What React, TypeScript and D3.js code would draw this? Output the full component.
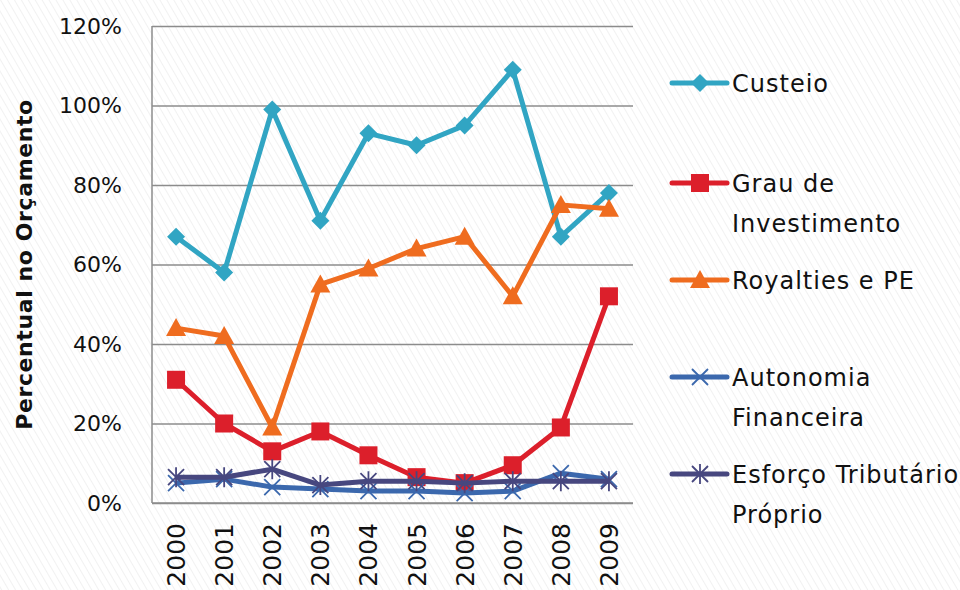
import React, { useRef, useEffect } from 'react';
import * as d3 from 'd3';

const years = ['2000', '2001', '2002', '2003', '2004', '2005', '2006', '2007', '2008', '2009'];
const custeio = [67, 58, 99, 71, 93, 90, 95, 109, 67, 78];
const grauInvestimento = [31, 20, 13, 18, 12, 6.5, 5, 9.5, 19, 52];
const royalties = [44, 42, 19, 55, 59, 64, 67, 52, 75, 74];
const autonomia = [5, 6, 4, 3.5, 3, 3, 2.5, 3, 7.5, 6];
const esforco = [6.5, 6.5, 8.5, 4.5, 5.5, 5.5, 5, 5.5, 5.5, 5.5];
const yTicks = [0, 20, 40, 60, 80, 100, 120];

const series = [
  { name: ['Custeio'], values: custeio, color: '#31a5c3', marker: 'diamond' },
  { name: ['Grau de', 'Investimento'], values: grauInvestimento, color: '#dc1f2b', marker: 'square' },
  { name: ['Royalties e PE'], values: royalties, color: '#ef6c1f', marker: 'triangle' },
  { name: ['Autonomia', 'Financeira'], values: autonomia, color: '#3b68ad', marker: 'x' },
  { name: ['Esforço Tributário', 'Próprio'], values: esforco, color: '#47477f', marker: 'star' },
];

const W = 960;
const H = 590;
const margin = { left: 152, top: 26, right: 327, bottom: 87 };

function drawMarker(g: any, type: string, color: string) {
  if (type === 'diamond') {
    g.append('path').attr('d', 'M0,-9L9,0L0,9L-9,0Z').attr('fill', color);
  } else if (type === 'square') {
    g.append('rect').attr('x', -9).attr('y', -9).attr('width', 18).attr('height', 18).attr('fill', color);
  } else if (type === 'triangle') {
    g.append('path').attr('d', 'M0,-10L10,8L-10,8Z').attr('fill', color);
  } else if (type === 'x') {
    g.append('path').attr('d', 'M-8,-8L8,8M-8,8L8,-8').attr('stroke', color).attr('stroke-width', 1.8);
  } else {
    g.append('path').attr('d', 'M-8,-8L8,8M-8,8L8,-8M0,-10L0,10').attr('stroke', color).attr('stroke-width', 1.8);
  }
}

const Chart = () => {
  const svgRef = useRef<SVGSVGElement>(null);

  useEffect(() => {
    const width = W - margin.left - margin.right;
    const height = H - margin.top - margin.bottom;

    const svgEl = d3.select(svgRef.current);
    svgEl.selectAll('*').remove();

    // hatched background
    const defs = svgEl.append('defs');
    const pat = defs.append('pattern')
      .attr('id', 'hatch')
      .attr('patternUnits', 'userSpaceOnUse')
      .attr('width', 6)
      .attr('height', 6)
      .attr('patternTransform', 'rotate(-30)');
    pat.append('rect').attr('width', 6).attr('height', 6).attr('fill', '#ffffff');
    pat.append('line').attr('x1', 0).attr('y1', 0).attr('x2', 0).attr('y2', 6)
      .attr('stroke', '#e4e4e4').attr('stroke-width', 1);
    svgEl.append('rect').attr('width', W).attr('height', H).attr('fill', 'url(#hatch)');

    const svg = svgEl.append('g').attr('transform', `translate(${margin.left},${margin.top})`);

    const xScale = d3.scaleBand().domain(years).range([0, width]);
    const yScale = d3.scaleLinear().domain([0, 120]).range([height, 0]);

    // Y grid + labels
    const yAxis = d3.axisLeft(yScale)
      .tickValues(yTicks)
      .tickSize(-width)
      .tickPadding(30)
      .tickFormat((v) => `${v}%`);
    const yAxisGroup = svg.append('g').call(yAxis);
    yAxisGroup.select('.domain').remove();
    yAxisGroup.selectAll('line').attr('stroke', '#8c8c8c').attr('stroke-width', 1.5);
    yAxisGroup.selectAll('text')
      .attr('fill', '#111')
      .attr('font-size', '22px')
      .attr('font-family', 'DejaVu Sans, sans-serif');

    svg.append('line').attr('x1', 0).attr('x2', 0).attr('y1', 0).attr('y2', height)
      .attr('stroke', '#8c8c8c').attr('stroke-width', 1.5);
    svg.append('line').attr('x1', 0).attr('x2', width).attr('y1', height).attr('y2', height)
      .attr('stroke', '#8c8c8c').attr('stroke-width', 1.5);

    // X labels
    const xAxis = d3.axisBottom(xScale).tickSize(0).tickPadding(0);
    const xAxisGroup = svg.append('g').attr('transform', `translate(0,${height})`).call(xAxis);
    xAxisGroup.select('.domain').remove();
    xAxisGroup.selectAll('text')
      .attr('fill', '#111')
      .attr('font-size', '25px')
      .attr('font-family', 'DejaVu Sans, sans-serif')
      .attr('text-anchor', 'end')
      .attr('transform', 'rotate(-90)')
      .attr('x', -20)
      .attr('y', 0)
      .attr('dy', '0.36em');

    // axis title
    svgEl.append('text')
      .attr('transform', `translate(32,${margin.top + height / 2}) rotate(-90)`)
      .attr('text-anchor', 'middle')
      .attr('font-size', '22px')
      .attr('letter-spacing', '0.6px')
      .attr('font-weight', 'bold')
      .attr('font-family', 'DejaVu Sans, sans-serif')
      .attr('fill', '#111')
      .text('Percentual no Orçamento');

    const line = d3.line<number>()
      .x((d, i) => (xScale(years[i]) as number) + xScale.bandwidth() / 2)
      .y((d) => yScale(d));

    series.forEach((s) => {
      svg.append('path')
        .attr('fill', 'none')
        .attr('stroke', s.color)
        .attr('stroke-width', 5)
        .attr('stroke-linejoin', 'round')
        .attr('d', line(s.values));
      s.values.forEach((v, i) => {
        const g = svg.append('g')
          .attr('transform', `translate(${(xScale(years[i]) as number) + xScale.bandwidth() / 2},${yScale(v)})`);
        drawMarker(g, s.marker, s.color);
      });
    });

    // legend
    const legendY = [83, 183, 280, 377, 474];
    series.forEach((s, k) => {
      const lg = svgEl.append('g').attr('transform', `translate(672,${legendY[k]})`);
      lg.append('line').attr('x1', 0).attr('x2', 55).attr('y1', 0).attr('y2', 0)
        .attr('stroke', s.color).attr('stroke-width', 5).attr('stroke-linecap', 'round');
      const mg = lg.append('g').attr('transform', 'translate(28,0)');
      drawMarker(mg, s.marker, s.color);
      s.name.forEach((t, j) => {
        lg.append('text')
          .attr('x', 60)
          .attr('y', 9 + j * 40)
          .attr('font-size', '24px')
          .attr('letter-spacing', '1px')
          .attr('font-family', 'DejaVu Sans, sans-serif')
          .attr('fill', '#111')
          .text(t);
      });
    });
  }, []);

  return (
    <svg ref={svgRef} width={W} height={H} style={{ position: 'absolute', left: 0, top: 0 }} />
  );
};

export default function App() {
  return <Chart />;
}
